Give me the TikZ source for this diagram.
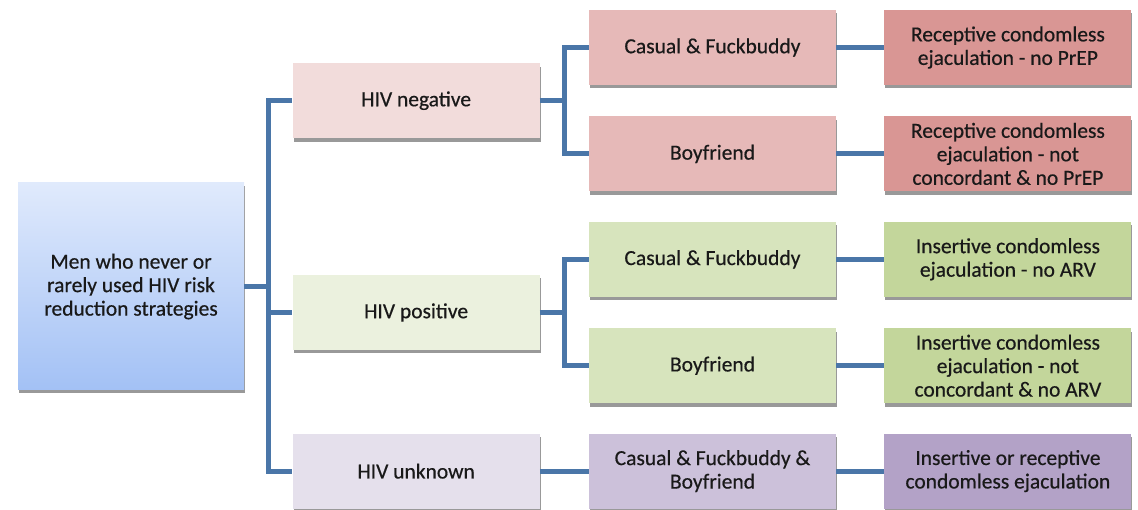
\documentclass[tikz,border=0pt]{standalone}
\usepackage{fontspec}
\setmainfont{Carlito}[RawFeature={embolden=0.5}]
\usetikzlibrary{positioning,shadows,calc}
\definecolor{Link}{RGB}{74, 118, 168}
\definecolor{RootTop}{RGB}{224, 234, 252}
\definecolor{RootBot}{RGB}{163, 193, 245}
\definecolor{Neg1}{RGB}{242, 220, 219}
\definecolor{Neg2}{RGB}{230, 185, 184}
\definecolor{Neg3}{RGB}{217, 150, 148}
\definecolor{Pos1}{RGB}{235, 241, 222}
\definecolor{Pos2}{RGB}{215, 228, 189}
\definecolor{Pos3}{RGB}{195, 214, 155}
\definecolor{Unk1}{RGB}{229, 224, 236}
\definecolor{Unk2}{RGB}{204, 193, 218}
\definecolor{Unk3}{RGB}{179, 162, 199}
\tikzset{
    box/.style={
        minimum width=247pt,
        minimum height=75pt,
        align=center,
        inner sep=2pt,
        text=black!90,
        font=\fontsize{21.5}{23.5}\selectfont,
        drop shadow={shadow xshift=1pt, shadow yshift=-3.5pt, fill=black, opacity=0.4}
    },
    link/.style={draw=Link, line width=5pt}
}
\newcommand{\cbox}[3]{
    \node(#1)[
        box,
        #2
    ]{#3};
}

\begin{document}
\begin{tikzpicture}[x=1pt, y=-1pt]
	\useasboundingbox (0,0) rectangle (1138,510);

	\cbox{neg cas}{fill=Neg2, at={(712.5,47.5)}}{Casual \& Fuckbuddy}
	\cbox{neg bf}{fill=Neg2, below=31pt of neg cas}{Boyfriend}
	\cbox{pos cas}{fill=Pos2, below=30pt of neg bf}{Casual \& Fuckbuddy}
	\cbox{pos bf}{fill=Pos2, below=31pt of pos cas}{Boyfriend}
	\cbox{unk all}{fill=Unk2, below=30pt of pos bf}{Casual \& Fuckbuddy \&\\Boyfriend}

	\cbox{neg cas out}{fill=Neg3, right=48pt of neg cas}{Receptive condomless\\ejaculation - no PrEP}
	\cbox{neg bf out}{fill=Neg3, right=48pt of neg bf}{Receptive condomless\\ejaculation - not\\concordant \& no PrEP}
	\cbox{pos cas out}{fill=Pos3, right=48pt of pos cas}{Insertive condomless\\ejaculation - no ARV}
	\cbox{pos bf out}{fill=Pos3, right=48pt of pos bf}{Insertive condomless\\ejaculation - not\\concordant \& no ARV}
	\cbox{unk all out}{fill=Unk3, right=48pt of unk all}{Insertive or receptive\\condomless ejaculation}

	\coordinate (neg mid) at ($(neg cas.west)!0.5!(neg bf.west)$);
	\coordinate (pos mid) at ($(pos cas.west)!0.5!(pos bf.west)$);
	\cbox{neg}{fill=Neg1, left=49pt of neg mid}{HIV negative}
	\cbox{pos}{fill=Pos1, left=49pt of pos mid}{HIV positive}
	\cbox{unk}{fill=Unk1, left=49pt of unk all}{HIV unknown}

	\cbox{root}{minimum width=226pt, minimum height=207pt, top color=RootTop, bottom color=RootBot, at={(131,286.5)}}{Men who never or\\rarely used HIV risk\\reduction strategies}

	% tree links
	\draw[link] (root.east) -- ++(24,0) |- (neg.west);
	\draw[link] (root.east) -- ++(24,0) |- (pos.west);
	\draw[link] (root.east) -- ++(24,0) |- (unk.west);

	\draw[link] (neg.east) -- ++(25,0) |- (neg cas.west);
	\draw[link] (neg.east) -- ++(25,0) |- (neg bf.west);
	\draw[link] (pos.east) -- ++(25,0) |- (pos cas.west);
	\draw[link] (pos.east) -- ++(25,0) |- (pos bf.west);
	\draw[link] (unk) -- (unk all);

	\draw[link] (neg cas) -- (neg cas out);
	\draw[link] (neg bf) -- (neg bf out);
	\draw[link] (pos cas) -- (pos cas out);
	\draw[link] (pos bf) -- (pos bf out);
	\draw[link] (unk all) -- (unk all out);
\end{tikzpicture}
\end{document}
